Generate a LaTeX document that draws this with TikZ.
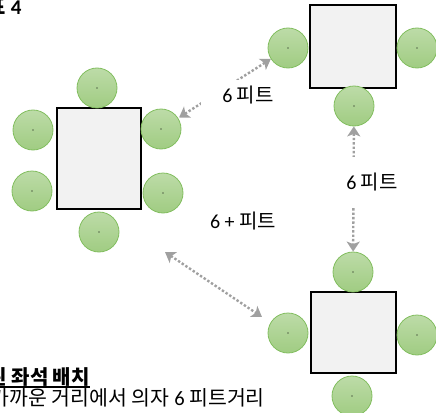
\documentclass[tikz,border=0pt]{standalone}
\usepackage{fontspec}
\setmainfont{Carlito}
\newfontfamily\kr{Noto Sans CJK KR}
\usetikzlibrary{arrows.meta}
\usetikzlibrary{backgrounds}
\definecolor{chairgreen}{RGB}{160,204,130}
\definecolor{chairedge}{RGB}{130,190,95}
\definecolor{tablegray}{RGB}{242,242,242}
\definecolor{arrowgray}{RGB}{160,160,160}

\tikzset{
  chair/.style={circle, minimum size=40pt, inner sep=0pt, draw=chairedge, line width=0.8pt,
    top color=chairgreen!70!white, bottom color=chairgreen,
    path picture={\fill[black] (path picture bounding box.center) circle (0.6pt);}},
  desk/.style={rectangle, draw=black, line width=1.3pt, fill=tablegray, inner sep=0pt},
  gap/.style={arrowgray, line width=2.4pt, dash pattern=on 2.4pt off 2pt,
    {Stealth[length=10pt,width=13pt,inset=2.5pt]}-{Stealth[length=10pt,width=13pt,inset=2.5pt]}},
  dist/.style={fill=white, inner sep=0pt, font=\fontsize{20}{22}\selectfont}
}

\begin{document}
\begin{tikzpicture}[x=1pt,y=-1pt]
  \path[use as bounding box] (0,0) rectangle (436,412);
  \clip (0,0) rectangle (436,412);

  % tables
  \node[desk, minimum width=84pt, minimum height=101pt] (t1) at (99,158.5) {};
  \node[desk, minimum width=86pt, minimum height=83pt] (t2) at (353,46.5) {};
  \node[desk, minimum width=85pt, minimum height=81pt] (t3) at (353.5,332.5) {};

  % chairs round table 1
  \node[chair] (c1top) at (97,88) {};
  \node[chair] (c1lu) at (33,130) {};
  \node[chair] (c1ll) at (32,191) {};
  \node[chair] (c1ru) at (161,129) {};
  \node[chair] (c1rl) at (163,193) {};
  \node[chair] (c1bot) at (99,232) {};
  % chairs round table 2
  \node[chair] (c2l) at (288,48) {};
  \node[chair] (c2r) at (417,48) {};
  \node[chair] (c2bot) at (354,106) {};
  % chairs round table 3
  \node[chair] (c3top) at (353,272) {};
  \node[chair] (c3l) at (288,333) {};
  \node[chair] (c3r) at (417,335) {};
  \node[chair] (c3bot) at (352,396) {};

  % distances
  \begin{scope}[on background layer]
    \coordinate (p1) at (165,252);
    \coordinate (p2) at (262,317);
    \draw[gap, shorten <=1pt] (c1ru) -- (c2l);
    \draw[gap] (c2bot) -- (c3top);
    \draw[gap] (p1) -- (p2);

    \node[dist, minimum width=94pt, minimum height=30pt] (d1) at (248,95) {6 {\kr 피트}};
    \node[dist, minimum width=60pt, minimum height=50pt] (d2) at (372,182) {6 {\kr 피트}};
    \node[dist] (d3) at (243,221) {6 + {\kr 피트}};
  \end{scope}

  % caption (cut at the left edge)
  \node[anchor=base east, font=\bfseries\fontsize{21}{22}\selectfont] (title) at (25,15) {{\kr 표} 4};
  \node[anchor=base east, inner sep=0pt, font=\bfseries\fontsize{20}{22}\selectfont] (cap1) at (90,384) {\kr 된 좌석 배치};
  \draw[line width=1.4pt] ([yshift=-3pt]cap1.base west) -- ([yshift=-3pt]cap1.base east);
  \node[anchor=base east, inner sep=0pt, font=\fontsize{20.5}{22}\selectfont] (cap2) at (265,405) {{\kr 가까운 거리에서 의자} 6 {\kr 피트거리}};
\end{tikzpicture}
\end{document}
